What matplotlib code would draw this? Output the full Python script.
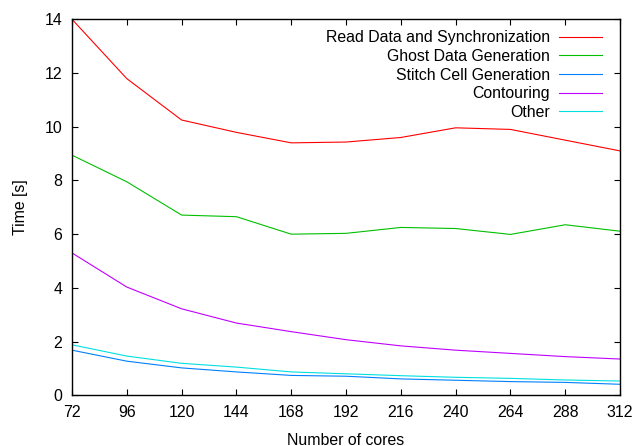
import matplotlib
matplotlib.use("Agg")
import matplotlib.pyplot as plt

cores = [72, 96, 120, 144, 168, 192, 216, 240, 264, 288, 312]
read_sync = [14.0, 11.79, 10.25, 9.79, 9.40, 9.43, 9.60, 9.96, 9.90, 9.50, 9.10]
ghost = [8.94, 7.95, 6.71, 6.65, 6.00, 6.03, 6.25, 6.21, 5.99, 6.35, 6.11]
stitch = [1.68, 1.27, 1.02, 0.87, 0.74, 0.71, 0.61, 0.56, 0.51, 0.48, 0.41]
contouring = [5.30, 4.03, 3.22, 2.69, 2.37, 2.07, 1.84, 1.68, 1.56, 1.44, 1.35]
other = [1.88, 1.46, 1.19, 1.05, 0.87, 0.80, 0.73, 0.67, 0.63, 0.57, 0.53]

labels = ["Read Data and Synchronization", "Ghost Data Generation",
          "Stitch Cell Generation", "Contouring", "Other"]
series = [read_sync, ghost, stitch, contouring, other]
colors = ["#ff0000", "#00c000", "#0080ff", "#c000ff", "#00e0e0"]

plt.rcParams['font.family'] = ['Liberation Sans', 'DejaVu Sans']
fs = 11.4

fig = plt.figure(figsize=(6.34, 4.46), dpi=100)
ax = fig.add_axes([0.1136, 0.1137, 0.978 - 0.1136, 0.9567 - 0.1137])

for y, lab, c in zip(series, labels, colors):
    ax.plot(cores, y, color=c, lw=0.8, label=lab)

ax.set_xlim(72, 312)
ax.set_ylim(0, 14)
ax.set_xticks(cores)
ax.set_yticks(range(0, 15, 2))
ax.tick_params(direction='in', length=4.5, width=0.8, top=True, right=True,
               labelsize=fs, pad=7)
for s in ax.spines.values():
    s.set_linewidth(1.0)
ax.set_xlabel("Number of cores", fontsize=fs, labelpad=9)
ax.set_ylabel("Time [s]", fontsize=fs, labelpad=12)

leg = ax.legend(loc='upper right', frameon=False, markerfirst=False,
                handlelength=2.7, handletextpad=0.6, labelspacing=0.23,
                fontsize=fs, borderaxespad=0.55,
                bbox_to_anchor=(0.9945, 1.011))
for t in leg.get_texts():
    t.set_ha('right')

fig.savefig("out.png", dpi=100)
